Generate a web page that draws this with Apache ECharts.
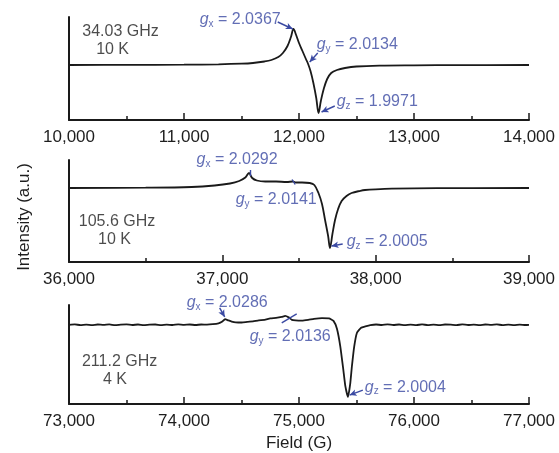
<!DOCTYPE html>
<html>
<head>
<meta charset="utf-8">
<script src="https://cdn.jsdelivr.net/npm/echarts@6/dist/echarts.min.js"></script>
<style>
  html, body { margin: 0; padding: 0; background: #ffffff; }
  #chart { width: 559px; height: 453px; }
</style>
</head>
<body>
<div id="chart"></div>
<script>
// EPR spectra of the same sample at three microwave frequencies.
// Field in gauss, intensity in arbitrary units (baseline = 0).

// 34.03 GHz, 10 K
const field1 = [10000, 10500, 11000, 11300, 11500, 11600, 11700, 11760, 11820, 11860, 11900, 11930, 11952,
  11975, 12000, 12030, 12060, 12076, 12100, 12125, 12150, 12170, 12190, 12215, 12245, 12280, 12330, 12400,
  12500, 12700, 13000, 13400, 14000];
const signal1 = [0, 0.1, 0.3, 0.7, 1.3, 2, 3.5, 5, 8, 12, 19, 28, 36,
  30, 22, 14, 6, 2, -6, -18, -33, -48, -36, -24, -14, -8, -5, -3,
  -1.5, -0.6, -0.3, -0.1, 0];

// 105.6 GHz, 10 K
const field2 = [36000, 36500, 36800, 36950, 37050, 37110, 37150, 37174, 37195, 37225, 37280, 37350, 37420,
  37460, 37480, 37520, 37570, 37600, 37627, 37650, 37670, 37690, 37702, 37718, 37735, 37755, 37778, 37810,
  37843, 37900, 37931, 38000, 38105, 38400, 39000];
const signal2 = [0, 0.3, 1, 2.5, 4.5, 7, 10.5, 15, 10, 7.5, 6.5, 6.5, 6,
  6.5, 5.5, 5.5, 5, 3, -5, -16, -32, -48, -60, -46, -32, -21, -13, -8,
  -5, -2.8, -2, -1.3, -0.7, -0.2, 0];

// 211.2 GHz, 4 K (noisier trace)
const field3 = [73000, 73050, 73100, 73150, 73200, 73250, 73300, 73350, 73400, 73450, 73500, 73550, 73600,
  73650, 73700, 73750, 73800, 73850, 73900, 73950, 74000, 74050, 74100, 74150, 74200, 74250, 74300, 74330,
  74357, 74385, 74415, 74450, 74502, 74550, 74600, 74650, 74700, 74750, 74800, 74850, 74880, 74910, 74938,
  74970, 75025, 75080, 75130, 75200, 75260, 75300, 75330, 75359, 75385, 75403, 75426, 75445, 75460, 75480,
  75504, 75540, 75577, 75620, 75670, 75720, 75770, 75820, 75870, 75920, 75970, 76020, 76070, 76120, 76170,
  76220, 76270, 76320, 76370, 76420, 76470, 76520, 76570, 76620, 76670, 76720, 76770, 76820, 76870, 76920,
  76970, 77000];
const signal3 = [0, 0.4, -0.3, 0.2, -0.4, 0.3, -0.1, 0.4, -0.4, 0.1, 0.4, -0.2, 0.3,
  -0.4, 0.1, 0.3, -0.3, 0.2, -0.2, 0.4, 0, 0.3, -0.2, 0.3, 0.2, 0.6, 1.5, 3,
  5.7, 4.5, 3.3, 2.5, 2.3, 3, 3.5, 4.5, 5, 6.5, 7, 8, 9, 7.5, 5,
  4.5, 4.3, 5, 6, 6.7, 6.5, 4, -4, -21.7, -45, -62, -73, -60, -42, -22,
  -8, -3, -1.7, -0.4, 0.3, -0.2, 0.4, -0.2, 0.3, -0.4, 0.2, -0.3, 0.4, -0.3, 0.2,
  -0.4, 0.3, 0.1, -0.3, 0.4, -0.2, 0.2, -0.4, 0.3, -0.1, 0.4, -0.3, 0.2, -0.3, 0.2,
  -0.2, 0];

// Condition labels and principal g values
const conditions = [['34.03 GHz', '10 K'], ['105.6 GHz', '10 K'], ['211.2 GHz', '4 K']];
const gValues = [['2.0367', '2.0134', '1.9971'], ['2.0292', '2.0141', '2.0005'], ['2.0286', '2.0136', '2.0004']];
const gAxes = ['x', 'y', 'z'];

// Axis ranges and tick labels
const fieldRanges = [[10000, 14000], [36000, 39000], [73000, 77000]];
const tickLabels = [
  ['10,000', '11,000', '12,000', '13,000', '14,000'],
  ['36,000', '37,000', '38,000', '39,000'],
  ['73,000', '74,000', '75,000', '76,000', '77,000']
];

const fontFamily = '"Liberation Sans", Arial, Helvetica, sans-serif';
const ink = '#1a1a1a';
const blue = '#3b4aa3';

// Where annotations sit, in data coordinates of each panel
const layout = [
  {
    top: 17, height: 103, yMin: -55, yMax: 48, smooth: 0.35,
    cond: [[10448, 33], [10379, 15]],
    gText: [[11136, 45], [12154, 20], [12328, -37]],
    arrows: [
      [[11815, 43], [11946, 36]],
      [[12163, 12], [12093, 3]],
      [[12311, -41], [12196, -47]]
    ]
  },
  {
    top: 160, height: 102, yMin: -74, yMax: 28, smooth: 0.35,
    cond: [[36313, -34], [36297, -52]],
    gText: [[36832, 28], [37087, -12], [37811, -54]],
    arrows: [
      [[37180, 18], [37180, 12], true],
      [[37455, 8.5], [37475, 3.5], true],
      [[37785, -56], [37712, -58]]
    ]
  },
  {
    top: 305, height: 100, yMin: -80, yMax: 20, smooth: 0.15,
    cond: [[73440, -37], [73400, -55]],
    gText: [[74023, 22], [74571, -12], [75572, -63]],
    arrows: [
      [[74310, 17], [74354, 8]],
      [[74850, 2], [74980, 11], true],
      [[75555, -66], [75440, -71]]
    ]
  }
];

function zip(xs, ys) { return xs.map((x, i) => [x, ys[i]]); }
const traces = [zip(field1, signal1), zip(field2, signal2), zip(field3, signal3)];

const gRich = {
  g: { fontStyle: 'italic', fontSize: 16, color: blue, fontFamily, lineHeight: 20, verticalAlign: 'middle' },
  s: { fontSize: 10, color: blue, fontFamily, lineHeight: 20, padding: [9, 0, 0, 0] },
  t: { fontSize: 16, color: blue, fontFamily, lineHeight: 20 }
};

const grids = [], xAxes = [], yAxes = [], series = [];

layout.forEach((p, i) => {
  grids.push({ left: 69, right: 30, top: p.top, height: p.height, containLabel: false });
  const labels = tickLabels[i];
  xAxes.push({
    type: 'value', gridIndex: i,
    min: fieldRanges[i][0], max: fieldRanges[i][1], interval: 1000,
    axisLine: { show: true, onZero: false, lineStyle: { color: ink, width: 2 } },
    axisTick: { show: true, inside: true, length: 7, lineStyle: { color: ink, width: 1.5 } },
    minorTick: { show: true, splitNumber: 2, length: 4, lineStyle: { color: ink, width: 1.5 } },
    splitLine: { show: false },
    axisLabel: {
      show: true, margin: 9, fontSize: 17, color: '#1e1e1e', fontFamily,
      showMinLabel: true, showMaxLabel: true,
      formatter: (v) => labels[Math.round((v - fieldRanges[i][0]) / 1000)]
    },
    name: i === 2 ? 'Field (G)' : '',
    nameLocation: 'middle', nameGap: 31,
    nameTextStyle: { fontSize: 17, color: '#1e1e1e', fontFamily }
  });
  yAxes.push({
    type: 'value', gridIndex: i, min: p.yMin, max: p.yMax,
    axisLine: { show: true, onZero: false, lineStyle: { color: ink, width: 2 } },
    axisTick: { show: false }, axisLabel: { show: false }, splitLine: { show: false }
  });

  // spectrum trace with the g-value pointers
  series.push({
    type: 'line', xAxisIndex: i, yAxisIndex: i,
    data: traces[i], showSymbol: false, smooth: p.smooth,
    lineStyle: { color: ink, width: 1.8 },
    silent: true, clip: false,
    markLine: {
      silent: true, animation: false,
      label: { show: false },
      lineStyle: { color: blue, width: 1.4, type: 'solid' },
      data: p.arrows.map(a => [
        { coord: a[0], symbol: 'none' },
        { coord: a[1], symbol: a[2] ? 'none' : 'arrow', symbolSize: [5, 7] }
      ])
    }
  });

  // g-value labels
  series.push({
    type: 'scatter', xAxisIndex: i, yAxisIndex: i, symbolSize: 0, silent: true, clip: false,
    data: p.gText.map((c, k) => ({ value: c, name: '{g|g}{s|' + gAxes[k] + '}{t| = ' + gValues[i][k] + '}' })),
    label: {
      show: true, position: 'right', distance: 0,
      formatter: (d) => d.name, rich: gRich
    }
  });

  // frequency / temperature labels
  series.push({
    type: 'scatter', xAxisIndex: i, yAxisIndex: i, symbolSize: 0, silent: true, clip: false,
    data: p.cond.map((c, k) => ({ value: c, name: conditions[i][k] })),
    label: {
      show: true, position: 'inside', align: 'center', verticalAlign: 'middle',
      fontSize: 16, color: '#1e1e1e', fontFamily, formatter: (d) => d.name
    }
  });
});

const chart = echarts.init(document.getElementById('chart'), null, { renderer: 'canvas' });
chart.setOption({
  animation: false,
  backgroundColor: '#ffffff',
  grid: grids,
  xAxis: xAxes,
  yAxis: yAxes,
  series: series,
  graphic: [{
    type: 'text', x: 24, y: 217, rotation: Math.PI / 2,
    style: {
      text: 'Intensity (a.u.)', fontSize: 17, fill: '#1e1e1e', fontFamily,
      align: 'center', verticalAlign: 'middle'
    }
  }]
});
</script>
</body>
</html>
